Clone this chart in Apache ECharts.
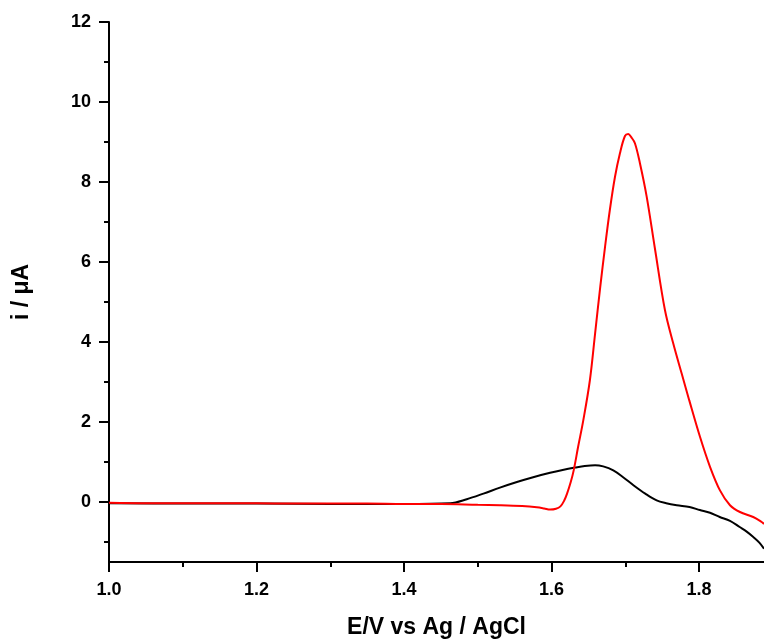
<!DOCTYPE html>
<html>
<head>
<meta charset="utf-8">
<script src="https://cdn.jsdelivr.net/npm/echarts@6/dist/echarts.min.js"></script>
<style>html,body{margin:0;padding:0;background:#fff}#c{width:764px;height:640px}</style>
</head>
<body>
<div id="c"></div>
<script>
// Data
var redE = [1.000,1.050,1.100,1.150,1.200,1.250,1.300,1.350,1.400,1.450,1.500,1.530,1.560,1.580,1.590,1.598,1.606,1.612,1.617,1.621,1.626,1.630,1.636,1.643,1.652,1.659,1.666,1.6725,1.679,1.686,1.6927,1.6995,1.704,1.708,1.713,1.7198,1.729,1.740,1.7537,1.765,1.7764,1.7867,1.8012,1.8148,1.8283,1.8419,1.8554,1.8734,1.8848,1.888];
var redI = [-0.02,-0.03,-0.03,-0.03,-0.03,-0.04,-0.04,-0.04,-0.05,-0.05,-0.07,-0.08,-0.10,-0.13,-0.16,-0.19,-0.17,-0.11,0.03,0.21,0.50,0.79,1.38,2.04,3.05,4.21,5.38,6.38,7.30,8.13,8.72,9.15,9.20,9.12,8.97,8.47,7.63,6.35,4.80,3.96,3.21,2.54,1.63,0.88,0.29,-0.08,-0.25,-0.375,-0.50,-0.55];
var blackE = [1.000,1.100,1.200,1.300,1.400,1.4625,1.4850,1.5076,1.530,1.553,1.575,1.598,1.615,1.632,1.645,1.659,1.670,1.6837,1.697,1.711,1.727,1.7425,1.7555,1.7697,1.787,1.801,1.8148,1.828,1.8419,1.855,1.8645,1.8735,1.882,1.888];
var blackI = [-0.03,-0.04,-0.04,-0.05,-0.05,-0.03,0.07,0.21,0.36,0.50,0.62,0.73,0.80,0.86,0.90,0.92,0.89,0.79,0.62,0.42,0.21,0.04,-0.03,-0.08,-0.125,-0.20,-0.27,-0.375,-0.47,-0.625,-0.74,-0.875,-1.02,-1.17];
var xMajor = [1.0,1.2,1.4,1.6,1.8];
var xMinor = [1.1,1.3,1.5,1.7];
var yMajor = [0,2,4,6,8,10,12];
var yMinor = [-1,1,3,5,7,9,11];

function pairs(a,b){var r=[];for(var i=0;i<a.length;i++)r.push([a[i],b[i]]);return r;}
var F = '"Liberation Sans", Arial, sans-serif';
var chart = echarts.init(document.getElementById('c'));
var lineStyle = {color:'#000', width:2};
chart.setOption({
  animation:false,
  grid:{left:109, right:0, top:22, bottom:78, containLabel:false, outerBoundsMode:'none'},
  xAxis:[{
    type:'value', min:1.0, max:1.888, position:'bottom', offset:0,
    name:'E/V vs Ag / AgCl', nameLocation:'middle', nameGap:54,
    nameTextStyle:{fontFamily:F, fontWeight:'bold', fontSize:23, color:'#000'},
    axisLine:{show:true, onZero:false, lineStyle:lineStyle},
    axisTick:{show:true, inside:false, length:10, lineStyle:lineStyle, customValues:xMajor},
    axisLabel:{show:true, margin:19, fontFamily:F, fontWeight:'bold', fontSize:18, color:'#000',
      customValues:xMajor, formatter:function(v){return v.toFixed(1);}},
    splitLine:{show:false}
  },{
    type:'value', min:1.0, max:1.888, position:'bottom', offset:0,
    axisLine:{show:false, onZero:false},
    axisTick:{show:true, inside:false, length:5, lineStyle:lineStyle, customValues:xMinor},
    axisLabel:{show:false}, splitLine:{show:false}
  }],
  yAxis:[{
    type:'value', min:-1.5, max:12, position:'left', offset:0,
    name:'i / \u03bcA', nameLocation:'middle', nameGap:76, nameRotate:90,
    nameTextStyle:{fontFamily:F, fontWeight:'bold', fontSize:23, color:'#000'},
    axisLine:{show:true, onZero:false, lineStyle:lineStyle},
    axisTick:{show:true, inside:false, length:10, lineStyle:lineStyle, customValues:yMajor},
    axisLabel:{show:true, margin:18, fontFamily:F, fontWeight:'bold', fontSize:18, color:'#000',
      customValues:yMajor},
    splitLine:{show:false}
  },{
    type:'value', min:-1.5, max:12, position:'left', offset:0,
    axisLine:{show:false, onZero:false},
    axisTick:{show:true, inside:false, length:5, lineStyle:lineStyle, customValues:yMinor},
    axisLabel:{show:false}, splitLine:{show:false}
  }],
  series:[{
    type:'line', xAxisIndex:0, yAxisIndex:0, data:pairs(blackE,blackI),
    showSymbol:false, smooth:0.35,
    lineStyle:{color:'#000', width:2}, z:2
  },{
    type:'line', xAxisIndex:0, yAxisIndex:0, data:pairs(redE,redI),
    showSymbol:false, smooth:0.35,
    lineStyle:{color:'#ff0000', width:2}, z:3
  }]
});
</script>
</body>
</html>
